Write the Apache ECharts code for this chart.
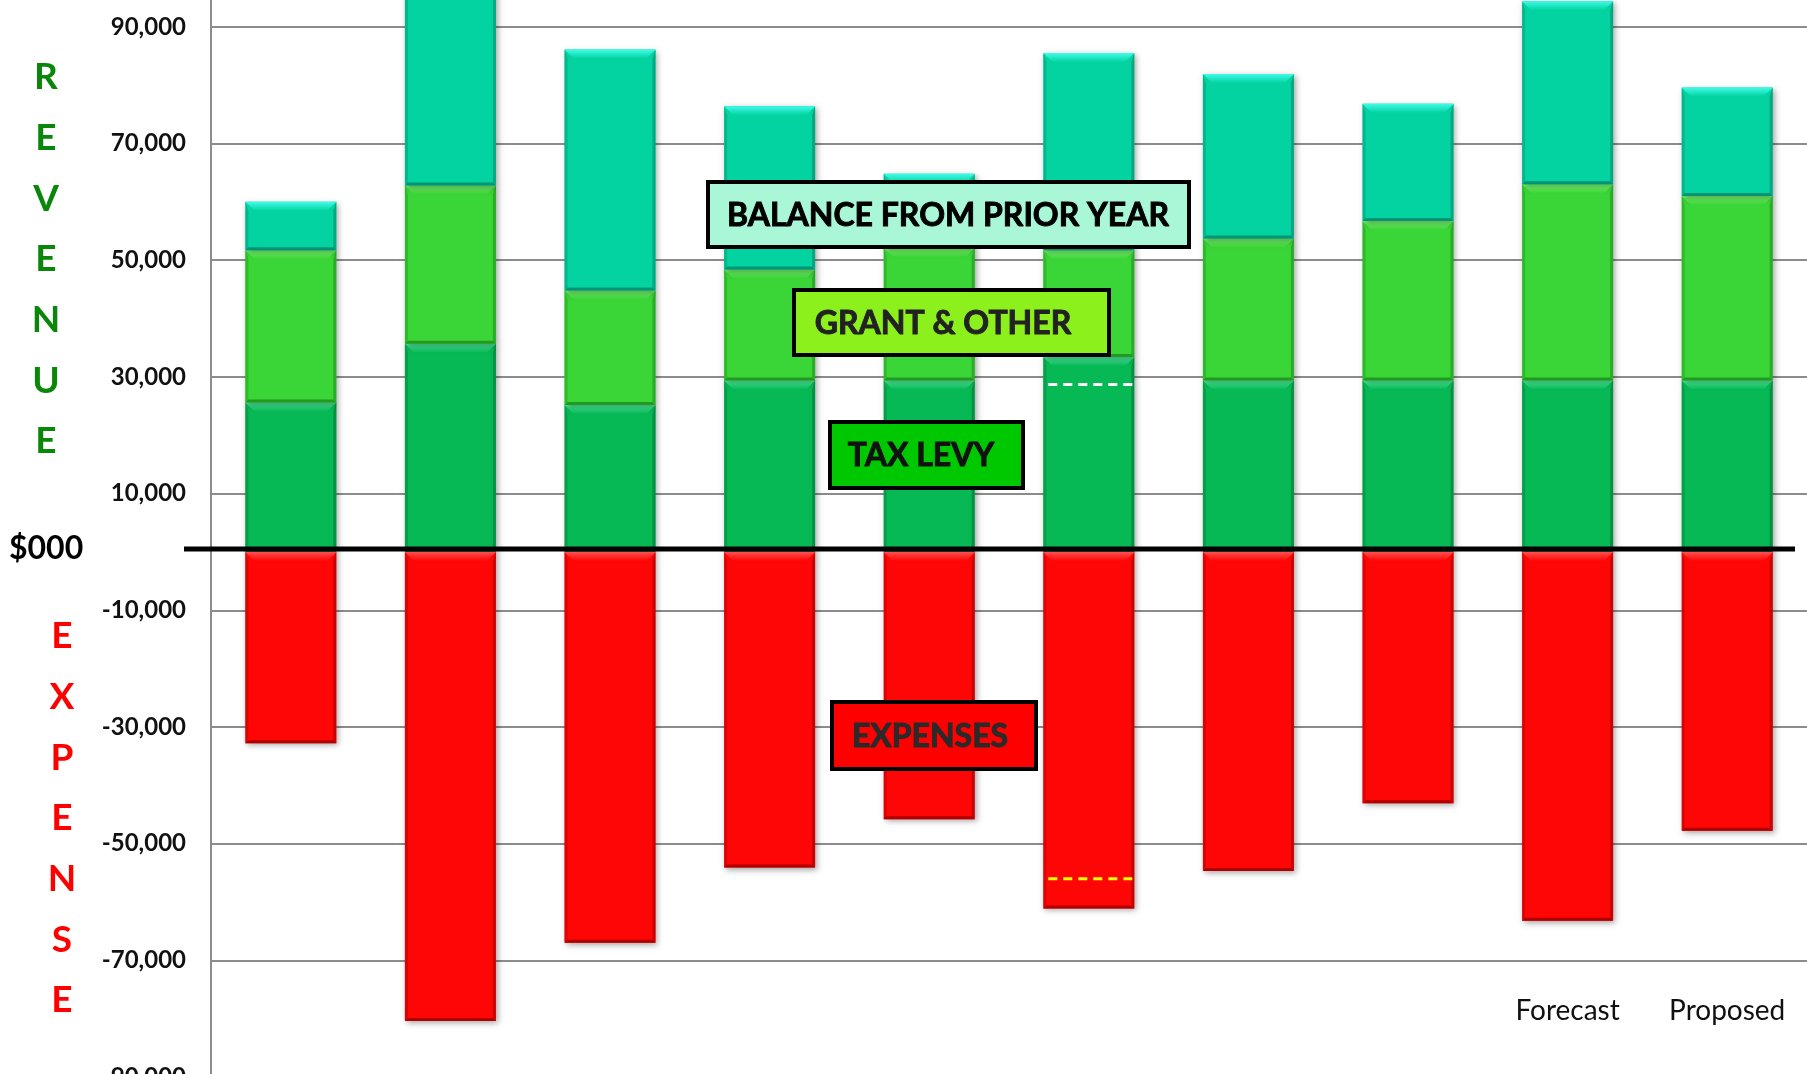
<!DOCTYPE html>
<html>
<head>
<meta charset="utf-8">
<title>Revenue / Expense</title>
<script src="https://cdn.jsdelivr.net/npm/echarts@6/dist/echarts.min.js"></script>
<style>
  html, body { margin: 0; padding: 0; background: #fff; }
  #chart { width: 1807px; height: 1074px; }
</style>
</head>
<body>
<div id="chart"></div>
<script>
// categories (only the last two carry a visible label)
var categories = ['', '', '', '', '', '', '', '', 'Forecast', 'Proposed'];

// revenue pieces, stacked from 0 upward ($000)
var taxLevy     = [25600, 35700, 25200, 29400, 29400, 33400, 29400, 29400, 29400, 29400];
var grantOther  = [26100, 27100, 19600, 19000, 22700, 18300, 24300, 27300, 33600, 31600];
var balancePrior = [8300, 37200, 41300, 28000, 12700, 33800, 28200, 20100, 31400, 18600];

// expenses (negative, from 0 downward)
var expenses = [-32800, -80400, -67000, -54100, -45800, -61100, -54700, -43100, -63200, -47800];

// dashed marks drawn across one bar: [category index, value]
var levyMarks = [[5, 28700]];
var expenseMarks = [[5, -56000]];

// axis ticks
var yTicks = [-90000, -70000, -50000, -30000, -10000, 10000, 30000, 50000, 70000, 90000];

var barRatio = 0.57;
var FONT = 'Lato, "Open Sans", sans-serif';

// build [cat, bottom, top] rows for stacked pieces
function stackRows(pieces, bases) {
  return pieces.map(function (v, i) {
    var b = bases ? bases[i] : 0;
    return [i, b, b + v];
  });
}
var grantBase = taxLevy;
var balanceBase = taxLevy.map(function (v, i) { return v + grantOther[i]; });

// bar with an Excel-like bevel
function bevelBar(fill, light, dark) {
  return function (params, api) {
    var cat = api.value(0);
    var a = api.coord([cat, api.value(1)]);
    var b = api.coord([cat, api.value(2)]);
    var w = api.size([1, 0])[0] * barRatio;
    var x = a[0] - w / 2;
    var y = Math.min(a[1], b[1]);
    var h = Math.abs(a[1] - b[1]);
    var e = Math.min(9, h / 3);
    var s = 3;
    return {
      type: 'group',
      children: [
        {
          type: 'rect',
          shape: { x: x, y: y, width: w, height: h },
          style: {
            fill: fill,
            shadowBlur: 6, shadowOffsetX: 2, shadowOffsetY: 2,
            shadowColor: 'rgba(0,0,0,0.35)'
          }
        },
        {
          type: 'polygon',
          shape: { points: [[x, y], [x + w, y], [x + w - e, y + e], [x + e, y + e]] },
          style: {
            fill: {
              type: 'linear', x: 0, y: 0, x2: 0, y2: 1,
              colorStops: [{ offset: 0, color: light }, { offset: 1, color: fill }]
            }
          }
        },
        {
          type: 'polygon',
          shape: { points: [[x, y], [x + s, y + e], [x + s, y + h - s], [x, y + h]] },
          style: { fill: dark, opacity: 0.45 }
        },
        {
          type: 'polygon',
          shape: { points: [[x + w, y], [x + w - s, y + e], [x + w - s, y + h - s], [x + w, y + h]] },
          style: { fill: dark, opacity: 0.7 }
        },
        {
          type: 'polygon',
          shape: { points: [[x, y + h], [x + w, y + h], [x + w - s, y + h - s], [x + s, y + h - s]] },
          style: { fill: dark }
        }
      ]
    };
  };
}

function dashMark(color) {
  return function (params, api) {
    var p = api.coord([api.value(0), api.value(1)]);
    var w = api.size([1, 0])[0] * barRatio;
    return {
      type: 'line',
      shape: { x1: p[0] - w / 2 + 5, y1: p[1], x2: p[0] + w / 2, y2: p[1] },
      style: { stroke: color, lineWidth: 3, lineDash: [9, 6] }
    };
  };
}

function fmt(v) {
  return String(v).replace(/\B(?=(\d{3})+(?!\d))/g, ',');
}

function box(x, y, w, h, fill, text, textColor, tx) {
  return {
    type: 'group',
    zlevel: 1,
    children: [
      {
        type: 'rect', zlevel: 1,
        shape: { x: x, y: y, width: w, height: h },
        style: { fill: fill, stroke: '#000', lineWidth: 4 }
      },
      {
        type: 'text', zlevel: 1, z: 2,
        x: tx, y: y + h / 2 + 1,
        style: {
          text: text, fill: textColor, font: 'bold 32px ' + FONT,
          stroke: textColor, lineWidth: 0.9,
          align: 'center', verticalAlign: 'middle'
        }
      }
    ]
  };
}

var chart = echarts.init(document.getElementById('chart'));

var option = {
  animation: false,
  backgroundColor: '#ffffff',
  grid: {
    left: 211, right: 0, top: 0, bottom: -3,
    containLabel: false, outerBoundsMode: 'none'
  },
  xAxis: {
    type: 'category',
    data: categories,
    axisLine: { show: false },
    axisTick: { show: false },
    splitLine: { show: false },
    axisLabel: {
      inside: true, margin: 52, fontFamily: FONT, fontSize: 28, color: '#111'
    }
  },
  yAxis: {
    type: 'value',
    min: -90000,
    max: 94600,
    axisLine: { show: true, lineStyle: { color: '#8c8c8c', width: 2 } },
    axisTick: { show: false, customValues: yTicks },
    axisLabel: {
      customValues: yTicks,
      formatter: fmt,
      fontFamily: FONT, fontWeight: 'bold', fontSize: 24, color: '#111', margin: 25
    },
    splitLine: { show: true, lineStyle: { color: '#8c8c8c', width: 2 } }
  },
  series: [
    {
      name: 'TAX LEVY', type: 'custom', clip: true,
      renderItem: bevelBar('#06b955', '#4ff0a0', '#03803b'),
      data: stackRows(taxLevy)
    },
    {
      name: 'GRANT & OTHER', type: 'custom', clip: true,
      renderItem: bevelBar('#3ad536', '#7af872', '#229a20'),
      data: stackRows(grantOther, grantBase)
    },
    {
      name: 'BALANCE FROM PRIOR YEAR', type: 'custom', clip: true,
      renderItem: bevelBar('#03d3a1', '#40fbe8', '#029575'),
      data: stackRows(balancePrior, balanceBase)
    },
    {
      name: 'EXPENSES', type: 'custom', clip: true,
      renderItem: bevelBar('#ff0606', '#ff5050', '#b00000'),
      data: expenses.map(function (v, i) { return [i, 0, v]; })
    },
    {
      name: 'levy mark', type: 'custom', clip: true, z: 5,
      renderItem: dashMark('#ffffff'),
      data: levyMarks
    },
    {
      name: 'expense mark', type: 'custom', clip: true, z: 5,
      renderItem: dashMark('#ffff00'),
      data: expenseMarks
    }
  ],
  graphic: [
    {
      type: 'line', zlevel: 1,
      shape: { x1: 184, y1: 549, x2: 1795, y2: 549 },
      style: { stroke: '#000', lineWidth: 5 }
    },
    {
      type: 'text', zlevel: 1, x: 9, y: 549,
      style: { text: '$000', fill: '#000', font: 'bold 32px ' + FONT, verticalAlign: 'middle' }
    },
    {
      type: 'text', zlevel: 1, x: 46, y: 47,
      style: {
        text: 'R\nE\nV\nE\nN\nU\nE', fill: '#0a870a', font: 'bold 37px ' + FONT,
        align: 'center', lineHeight: 60.7
      }
    },
    {
      type: 'text', zlevel: 1, x: 62, y: 606,
      style: {
        text: 'E\nX\nP\nE\nN\nS\nE', fill: '#ff0000', font: 'bold 37px ' + FONT,
        align: 'center', lineHeight: 60.7
      }
    },
    box(708, 182, 481, 65, '#aaf7d8', 'BALANCE FROM PRIOR YEAR', '#000', 948),
    box(794, 290, 315, 65, '#8cf01c', 'GRANT & OTHER', '#222', 943),
    box(830, 422, 193, 66, '#00c800', 'TAX LEVY', '#111', 921),
    box(832, 702, 204, 67, '#ff0000', 'EXPENSES', '#2a2a2a', 930)
  ]
};

chart.setOption(option);
</script>
</body>
</html>
